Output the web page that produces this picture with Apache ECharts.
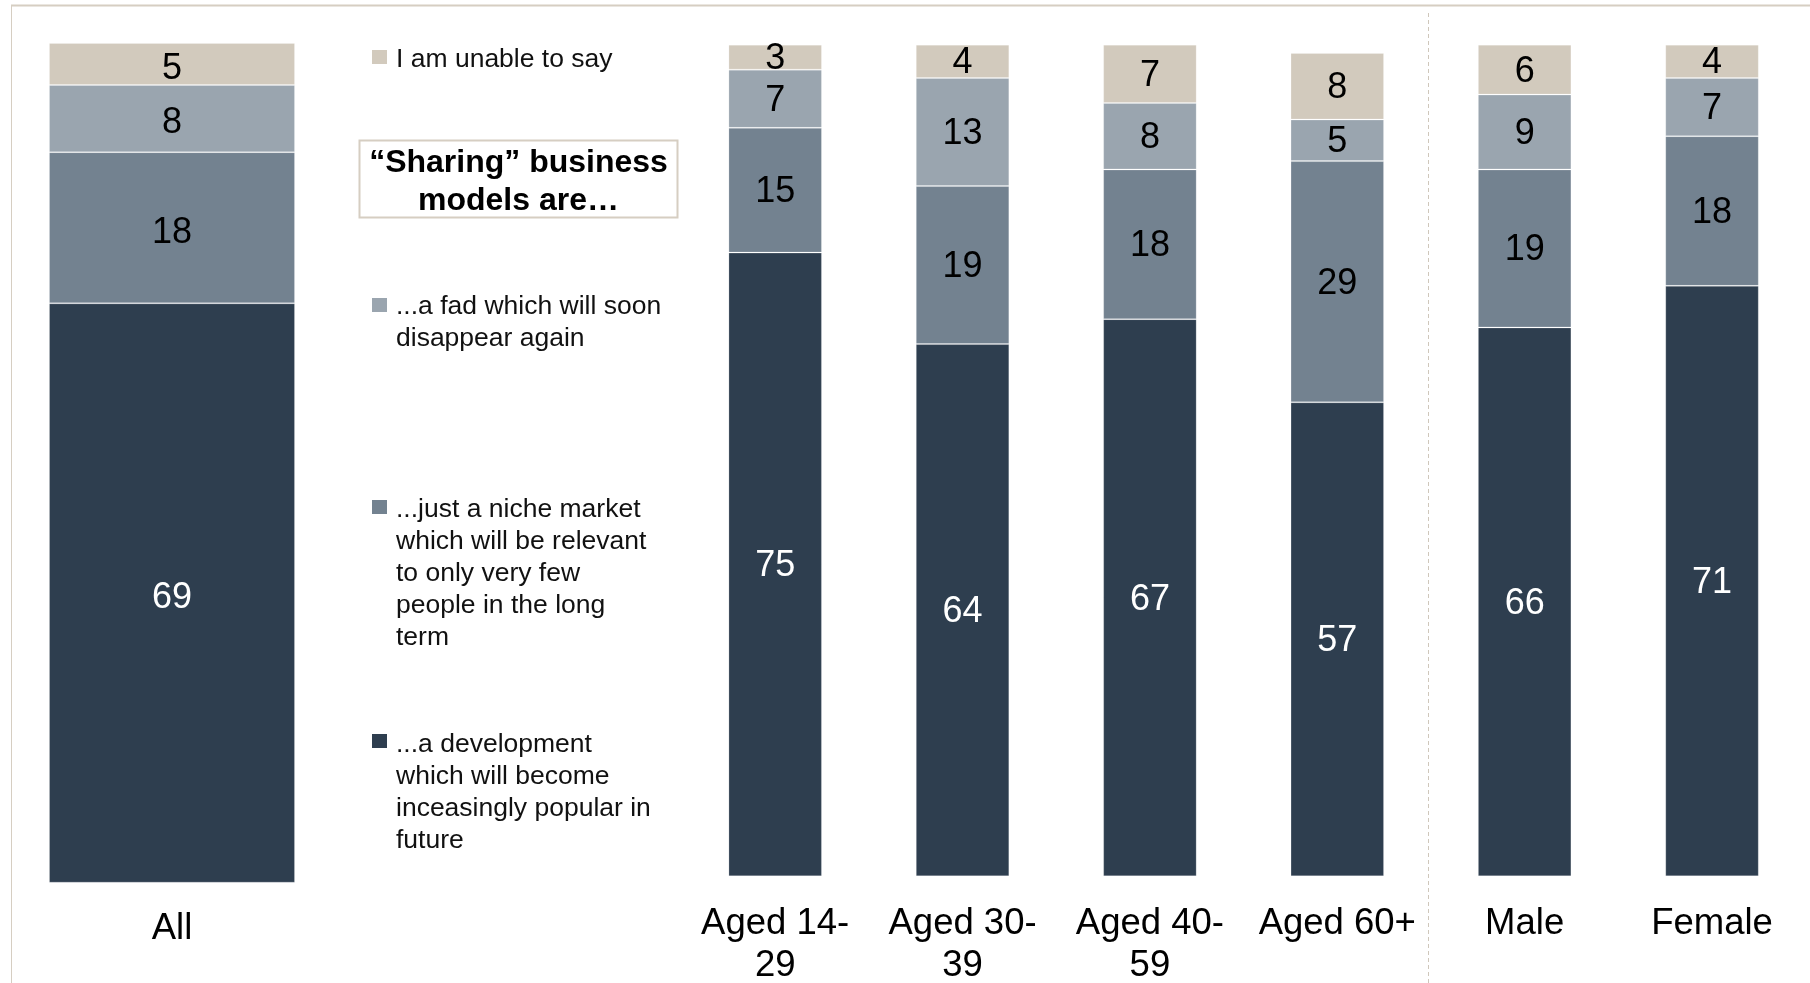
<!DOCTYPE html>
<html>
<head>
<meta charset="utf-8">
<title>Sharing business models</title>
<script src="https://cdn.jsdelivr.net/npm/echarts@6/dist/echarts.min.js"></script>
<style>
  html, body { margin: 0; padding: 0; background: #ffffff; }
  #chart { width: 1810px; height: 983px; }
</style>
</head>
<body>
<div id="chart"></div>
<script>
// Overall result
const totalCategory = ['All'];
const totalDevelopment = [69];
const totalNiche = [18];
const totalFad = [8];
const totalUnable = [5];

// Breakdown by age group and gender
const groupCategories = ['Aged 14-\n29', 'Aged 30-\n39', 'Aged 40-\n59', 'Aged 60+', 'Male', 'Female'];
const groupDevelopment = [75, 64, 67, 57, 66, 71];
const groupNiche = [15, 19, 18, 29, 19, 18];
const groupFad = [7, 13, 8, 5, 9, 7];
const groupUnable = [3, 4, 7, 8, 6, 4];

// Answer options (bottom of the stack first)
const answerNames = [
  '...a development which will become inceasingly popular in future',
  '...just a niche market which will be relevant to only very few people in the long term',
  '...a fad which will soon disappear again',
  'I am unable to say'
];
const legendLines = [
  '...a development\nwhich will become\ninceasingly popular in\nfuture',
  '...just a niche market\nwhich will be relevant\nto only very few\npeople in the long\nterm',
  '...a fad which will soon\ndisappear again',
  'I am unable to say'
];
const answerColors = ['#2e3e4f', '#738290', '#9aa5af', '#d2cabd'];
const labelColors = ['#ffffff', '#000000', '#000000', '#000000'];
const boxTitle = '\u201cSharing\u201d business\nmodels are\u2026';

const FONT = '"Liberation Sans", Arial, sans-serif';

const chart = echarts.init(document.getElementById('chart'), null, { renderer: 'canvas' });

function stackSeries(values, axisIndex, stackName) {
  return values.map((data, i) => ({
    name: answerNames[i],
    type: 'bar',
    stack: stackName,
    xAxisIndex: axisIndex,
    yAxisIndex: axisIndex,
    data: data,
    barWidth: axisIndex === 0 ? '100%' : 93.5,
    itemStyle: {
      color: answerColors[i],
      borderColor: 'rgba(255,255,255,0.2)',
      borderWidth: 1
    },
    label: {
      show: true,
      position: 'inside',
      offset: [0, axisIndex === 0 ? 5 : 2],
      color: labelColors[i],
      fontFamily: FONT,
      fontSize: 36
    },
    emphasis: { disabled: true },
    silent: true
  }));
}

// Legend drawn as marker squares with wrapped text
const legendTops = [729, 494, 291, 44];
const markerTops = [734, 500, 298, 50];
const legendGraphics = [];
legendLines.forEach((txt, i) => {
  legendGraphics.push({
    type: 'rect',
    shape: { x: 372, y: markerTops[i], width: 15, height: 14 },
    style: { fill: answerColors[i] },
    silent: true
  });
  legendGraphics.push({
    type: 'text',
    x: 396,
    y: legendTops[i],
    style: {
      text: txt,
      font: '26.5px ' + FONT,
      fill: '#111111',
      lineHeight: 32,
      verticalAlign: 'top',
      align: 'left'
    },
    silent: true
  });
});

const option = {
  animation: false,
  backgroundColor: '#ffffff',
  grid: [
    { left: 49, width: 246, top: 43, bottom: 100.3, containLabel: false, outerBoundsMode: 'none' },
    { left: 681.5, right: 4.3, top: 44.7, bottom: 106.7, containLabel: false, outerBoundsMode: 'none' }
  ],
  xAxis: [
    {
      type: 'category', gridIndex: 0, data: totalCategory,
      axisLine: { show: false }, axisTick: { show: false },
      axisLabel: { color: '#000000', fontFamily: FONT, fontSize: 36.5, lineHeight: 42, margin: 25 }
    },
    {
      type: 'category', gridIndex: 1, data: groupCategories,
      axisLine: { show: false }, axisTick: { show: false },
      axisLabel: { color: '#000000', fontFamily: FONT, fontSize: 36.5, lineHeight: 42, margin: 26.5, interval: 0 }
    }
  ],
  yAxis: [
    { type: 'value', gridIndex: 0, min: 0, max: 100, show: false },
    { type: 'value', gridIndex: 1, min: 0, max: 100, show: false }
  ],
  series: [
    ...stackSeries([totalDevelopment, totalNiche, totalFad, totalUnable], 0, 'total'),
    ...stackSeries([groupDevelopment, groupNiche, groupFad, groupUnable], 1, 'groups')
  ],
  graphic: [
    // outer frame lines
    { type: 'line', shape: { x1: 11, y1: 5.5, x2: 1810, y2: 5.5 }, style: { stroke: '#d6cec2', lineWidth: 2 }, silent: true },
    { type: 'line', shape: { x1: 11.5, y1: 5, x2: 11.5, y2: 983 }, style: { stroke: '#d6cec2', lineWidth: 1 }, silent: true },
    // divider between age groups and gender
    { type: 'line', shape: { x1: 1428.5, y1: 13, x2: 1428.5, y2: 983 }, style: { stroke: '#cfc7bb', lineWidth: 1, lineDash: [4, 3] }, silent: true },
    // question box
    { type: 'rect', shape: { x: 359.5, y: 140.5, width: 318, height: 77 }, style: { fill: '#ffffff', stroke: '#d6cec2', lineWidth: 2 }, silent: true },
    {
      type: 'text', x: 518.5, y: 182.5,
      style: {
        text: boxTitle,
        font: 'bold 32px ' + FONT,
        fill: '#000000',
        lineHeight: 38,
        align: 'center',
        verticalAlign: 'middle'
      },
      silent: true
    },
    ...legendGraphics
  ]
};

chart.setOption(option);
</script>
</body>
</html>
